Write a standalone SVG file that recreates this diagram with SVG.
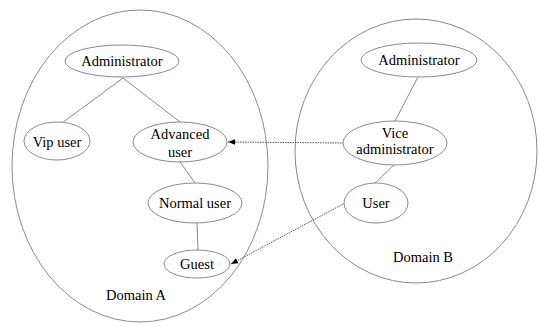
<svg xmlns="http://www.w3.org/2000/svg" width="539" height="326" viewBox="0 0 539 326">
<style>
.dom{fill:none;stroke:#8a8a8a;stroke-width:1}
.node ellipse{fill:#fff;stroke:#8a8a8a;stroke-width:1}
.edge{stroke:#8a8a8a;stroke-width:1;fill:none}
.dash{stroke:#555;stroke-width:1;stroke-dasharray:1.5 1;fill:none}
</style>
<defs>
<marker id="ah" viewBox="0 0 10 10" refX="10" refY="5" markerWidth="7" markerHeight="7" orient="auto" markerUnits="userSpaceOnUse">
<path d="M0,1 L10,5 L0,9 Z" fill="#000"/>
</marker>
</defs>
<rect width="539" height="326" fill="#fff"/>
<g font-family="Liberation Serif, DejaVu Serif, serif" font-size="14.5" text-anchor="middle" fill="#000">
<g id="domainA"><ellipse class="dom" cx="140" cy="166" rx="128" ry="156"/><text x="136" y="300">Domain A</text></g>
<g id="domainB"><ellipse class="dom" cx="416" cy="151" rx="121" ry="132"/><text x="423" y="262">Domain B</text></g>
<g id="connectors">
<line class="edge" x1="123" y1="78" x2="62" y2="123"/>
<line class="edge" x1="123" y1="78" x2="180" y2="122"/>
<line class="edge" x1="180" y1="162" x2="195" y2="183"/>
<line class="edge" x1="197" y1="223" x2="198" y2="251"/>
<line class="edge" x1="418" y1="77" x2="395" y2="121"/>
<line class="edge" x1="395" y1="164" x2="375" y2="183"/>
<line class="dash" x1="344" y1="143" x2="228" y2="142" marker-end="url(#ah)"/>
<line class="dash" x1="345" y1="203" x2="231" y2="264" marker-end="url(#ah)"/>
</g>
<g id="adminA" class="node"><ellipse cx="122" cy="61" rx="57" ry="16"/><text x="122" y="66">Administrator</text></g>
<g id="vipuser" class="node"><ellipse cx="57" cy="141" rx="33" ry="19"/><text x="57" y="147">Vip user</text></g>
<g id="advanced" class="node"><ellipse cx="180" cy="142" rx="47" ry="20"/><text x="180" y="139">Advanced</text><text x="180" y="157">user</text></g>
<g id="normal" class="node"><ellipse cx="195" cy="203" rx="47" ry="20"/><text x="195" y="208">Normal user</text></g>
<g id="guest" class="node"><ellipse cx="197" cy="264" rx="33" ry="14"/><text x="197" y="269">Guest</text></g>
<g id="adminB" class="node"><ellipse cx="419" cy="60" rx="58" ry="17"/><text x="419" y="65">Administrator</text></g>
<g id="vice" class="node"><ellipse cx="395" cy="143" rx="52" ry="22"/><text x="395" y="138">Vice</text><text x="395" y="154">administrator</text></g>
<g id="user" class="node"><ellipse cx="376" cy="203" rx="32" ry="20"/><text x="376" y="208">User</text></g>
</g>
</svg>
